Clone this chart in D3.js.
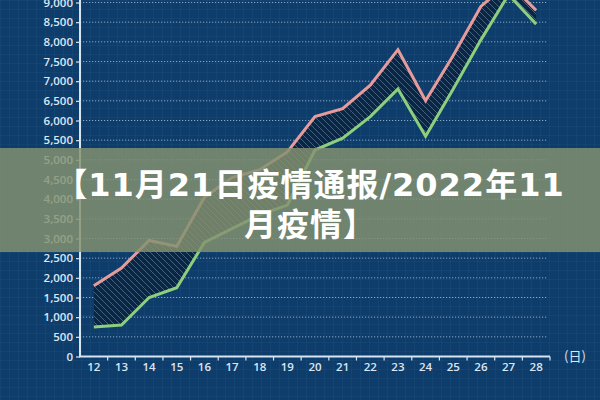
<!DOCTYPE html>
<html>
<head>
<meta charset="utf-8">
<script src="https://cdn.jsdelivr.net/npm/d3@7"></script>
<style>
  html, body { margin: 0; padding: 0; background: #0e3d6b; }
  svg { display: block; }
</style>
</head>
<body>
<div class="canvas"></div>
<script>
// data
const days = ['12', '13', '14', '15', '16', '17', '18', '19', '20', '21', '22', '23', '24', '25', '26', '27', '28']
const upper = [1800, 2250, 2950, 2800, 4050, 4550, 4750, 5200, 6100, 6300, 6900, 7800, 6500, 7650, 8900, 9500, 8800]
const lower = [750, 800, 1500, 1750, 2900, 3250, 3600, 3850, 5250, 5550, 6100, 6800, 5600, 6800, 8050, 9200, 8450]
const yTicks = [0, 500, 1000, 1500, 2000, 2500, 3000, 3500, 4000, 4500, 5000, 5500, 6000, 6500, 7000, 7500, 8000, 8500, 9000]
const titleLines = ['【11月21日疫情通报/2022年11', '月疫情】']

const dims = { width: 600, height: 400 }
const plot = { left: 80, right: 550, top: 2.5, bottom: 356.5 }

const svg = d3.select('.canvas').append('svg')
  .attr('width', dims.width)
  .attr('height', dims.height)

const defs = svg.append('defs')

// faint graph-paper texture
const paper = defs.append('pattern')
  .attr('id', 'paper')
  .attr('width', 9).attr('height', 9)
  .attr('patternUnits', 'userSpaceOnUse')
paper.append('path')
  .attr('d', 'M9,0 L0,0 0,9')
  .attr('fill', 'none')
  .attr('stroke', 'rgba(120,170,220,0.10)')
  .attr('stroke-width', 1)

// hatch between the two lines
const hatch = defs.append('pattern')
  .attr('id', 'hatch')
  .attr('width', 6).attr('height', 6)
  .attr('patternUnits', 'userSpaceOnUse')
hatch.append('rect')
  .attr('width', 6).attr('height', 6)
  .attr('fill', '#0a2645')
hatch.append('path')
  .attr('d', 'M-1,-1 L7,7 M-1,5 L1,7 M5,-1 L7,1')
  .attr('stroke', 'rgba(160,185,212,0.5)')
  .attr('stroke-width', 0.8)

svg.append('rect')
  .attr('width', dims.width).attr('height', dims.height)
  .attr('fill', '#0e3d6b')
svg.append('rect')
  .attr('width', dims.width).attr('height', dims.height)
  .attr('fill', 'url(#paper)')

const x = d3.scaleBand()
  .domain(days)
  .range([plot.left, plot.right])

const y = d3.scaleLinear()
  .domain([0, 9000])
  .range([plot.bottom, plot.top])

const cx = d => x(d) + x.bandwidth() / 2

// dotted gridlines
svg.append('g')
  .selectAll('line')
  .data(yTicks.slice(1))
  .enter().append('line')
  .attr('x1', plot.left).attr('x2', plot.right - 2)
  .attr('y1', d => y(d)).attr('y2', d => y(d))
  .attr('stroke', '#a9c2da')
  .attr('stroke-width', 1)
  .attr('stroke-dasharray', '1.2,1.8')
  .attr('opacity', 0.8)

const rows = days.map((d, i) => ({ day: d, hi: upper[i], lo: lower[i] }))

// hatched band
const area = d3.area()
  .x(d => cx(d.day))
  .y0(d => y(d.lo))
  .y1(d => y(d.hi))

svg.append('path')
  .datum(rows)
  .attr('d', area)
  .attr('fill', 'url(#hatch)')

const line = key => d3.line()
  .x(d => cx(d.day))
  .y(d => y(d[key]))

svg.append('path')
  .datum(rows)
  .attr('d', line('hi'))
  .attr('fill', 'none')
  .attr('stroke', '#e79c9b')
  .attr('stroke-width', 3)

svg.append('path')
  .datum(rows)
  .attr('d', line('lo'))
  .attr('fill', 'none')
  .attr('stroke', '#8ccf7c')
  .attr('stroke-width', 3)

// axes
const axisColor = '#d6e5f2'

const yAxis = svg.append('g')
  .attr('transform', `translate(${plot.left}, 0)`)
  .call(d3.axisLeft(y)
    .tickValues(yTicks)
    .tickSize(4)
    .tickPadding(3)
    .tickFormat(d3.format(',')))
yAxis.select('.domain')
  .attr('d', `M0,${plot.bottom}V0`)
  .attr('stroke', axisColor)
  .attr('stroke-width', 2)

const xAxis = svg.append('g')
  .attr('transform', `translate(0, ${plot.bottom})`)
  .call(d3.axisBottom(x).tickSize(0).tickPadding(6))
xAxis.select('.domain')
  .attr('d', `M${plot.left - 1},0H${plot.right}`)
  .attr('stroke', axisColor)
  .attr('stroke-width', 2)

// small ticks between day labels
xAxis.append('g')
  .selectAll('line')
  .data(days)
  .enter().append('line')
  .attr('x1', d => x(d) + x.bandwidth()).attr('x2', d => x(d) + x.bandwidth())
  .attr('y1', 0).attr('y2', 4)
  .attr('stroke', axisColor)
  .attr('stroke-width', 1.2)

svg.selectAll('.tick line').attr('stroke', axisColor).attr('stroke-width', 1.2)
svg.selectAll('.tick text')
  .attr('fill', '#dbe7f3')
  .attr('font-family', '"Open Sans", "Noto Sans", sans-serif')
  .attr('font-weight', 600)
  .attr('font-size', 11.5)

svg.append('text')
  .attr('x', 575).attr('y', 361)
  .attr('text-anchor', 'middle')
  .attr('fill', '#dbe7f3')
  .attr('font-family', '"Noto Sans CJK SC", sans-serif')
  .attr('font-size', 13)
  .text('(日)')

// title banner on top of the chart
svg.append('rect')
  .attr('x', 0).attr('y', 148)
  .attr('width', dims.width).attr('height', 104)
  .attr('fill', 'rgba(132,146,112,0.83)')

svg.append('g')
  .selectAll('text')
  .data(titleLines)
  .enter().append('text')
  .attr('x', 310)
  .attr('y', (d, i) => 196 + i * 40)
  .attr('text-anchor', 'middle')
  .attr('fill', '#ffffff')
  .attr('font-family', '"DejaVu Sans", "Noto Sans CJK SC", sans-serif')
  .attr('font-weight', 700)
  .attr('font-size', 32)
  .attr('letter-spacing', 1)
  .text(d => d)
</script>
</body>
</html>
